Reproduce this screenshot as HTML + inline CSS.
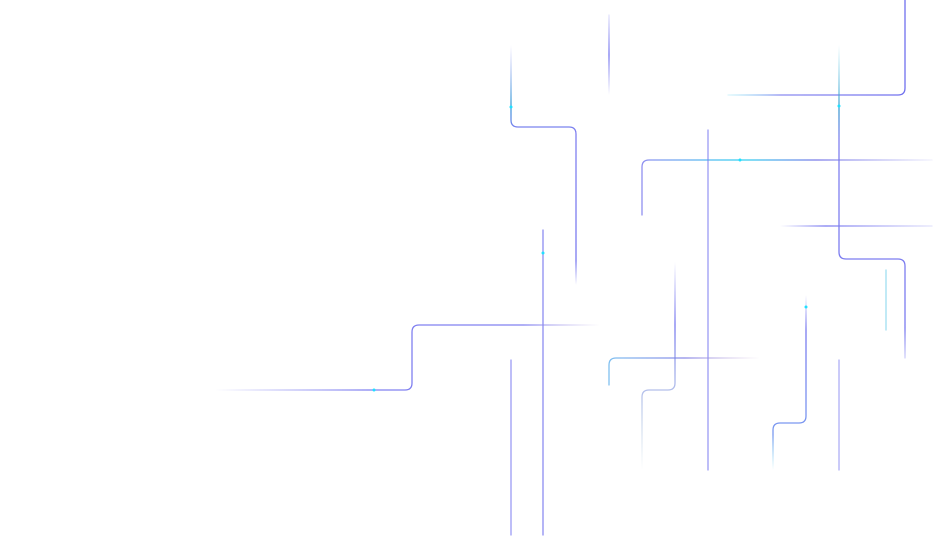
<!DOCTYPE html>
<html><head><meta charset="utf-8"><style>
html,body{margin:0;padding:0;background:#fff;width:937px;height:541px;overflow:hidden}
svg{display:block}
path{fill:none;stroke-width:1.3;stroke-linecap:round}
</style></head><body>
<svg width="937" height="541" viewBox="0 0 937 541" xmlns="http://www.w3.org/2000/svg">
<defs>
<linearGradient id="g1" gradientUnits="userSpaceOnUse" x1="0" y1="45" x2="0" y2="285"><stop offset="0" stop-color="#7f7ff0" stop-opacity="0"/><stop offset="0.25" stop-color="#3aa0d8"/><stop offset="0.35" stop-color="#8080f0"/><stop offset="0.9" stop-color="#7a7af0"/><stop offset="1" stop-color="#7a7af0" stop-opacity="0"/></linearGradient>
<linearGradient id="g2" gradientUnits="userSpaceOnUse" x1="0" y1="15" x2="0" y2="95"><stop offset="0" stop-color="#7a7af0" stop-opacity="0.2"/><stop offset="0.5" stop-color="#7a7af0"/><stop offset="1" stop-color="#7a7af0" stop-opacity="0"/></linearGradient>
<linearGradient id="g3" gradientUnits="userSpaceOnUse" x1="728" y1="0" x2="905" y2="0"><stop offset="0" stop-color="#4fd0f0" stop-opacity="0.2"/><stop offset="0.3" stop-color="#8a8af0"/><stop offset="1" stop-color="#7070ee"/></linearGradient>
<linearGradient id="g4" gradientUnits="userSpaceOnUse" x1="0" y1="45" x2="0" y2="360"><stop offset="0" stop-color="#40c0e0" stop-opacity="0"/><stop offset="0.2" stop-color="#40a0d0"/><stop offset="0.3" stop-color="#8080f0"/><stop offset="0.9" stop-color="#7a7af0"/><stop offset="1" stop-color="#7a7af0" stop-opacity="0.3"/></linearGradient>
<linearGradient id="g5" gradientUnits="userSpaceOnUse" x1="642" y1="0" x2="932" y2="0"><stop offset="0" stop-color="#9090f0"/><stop offset="0.35" stop-color="#30d0f0"/><stop offset="0.6" stop-color="#7a7ae8"/><stop offset="1" stop-color="#7a7ae8" stop-opacity="0.1"/></linearGradient>
<linearGradient id="gv" gradientUnits="objectBoundingBox" x1="0" y1="0" x2="0" y2="1"><stop offset="0" stop-color="#7a7af0" stop-opacity="0"/><stop offset="0.3" stop-color="#7a7af0"/><stop offset="1" stop-color="#7a7af0" stop-opacity="0.1"/></linearGradient>
<linearGradient id="gl" gradientUnits="userSpaceOnUse" x1="215" y1="0" x2="600" y2="0"><stop offset="0" stop-color="#7a7af0" stop-opacity="0"/><stop offset="0.4" stop-color="#8080f0"/><stop offset="0.8" stop-color="#8080f0"/><stop offset="1" stop-color="#b0a0e0" stop-opacity="0"/></linearGradient>
<linearGradient id="g12" gradientUnits="userSpaceOnUse" x1="609" y1="0" x2="760" y2="0"><stop offset="0" stop-color="#80c0f0"/><stop offset="0.5" stop-color="#8a8ae8"/><stop offset="1" stop-color="#c0a0d0" stop-opacity="0"/></linearGradient>
<linearGradient id="g13" gradientUnits="userSpaceOnUse" x1="0" y1="262" x2="0" y2="470"><stop offset="0" stop-color="#7a7af0" stop-opacity="0"/><stop offset="0.3" stop-color="#7a7af0"/><stop offset="1" stop-color="#70a0c0" stop-opacity="0"/></linearGradient>
<linearGradient id="g14" gradientUnits="userSpaceOnUse" x1="0" y1="295" x2="0" y2="470"><stop offset="0" stop-color="#7a7af0" stop-opacity="0"/><stop offset="0.2" stop-color="#7a7af0"/><stop offset="0.8" stop-color="#7a9af0"/><stop offset="1" stop-color="#60d0f0" stop-opacity="0"/></linearGradient>
<linearGradient id="g7" gradientUnits="userSpaceOnUse" x1="780" y1="0" x2="932" y2="0"><stop offset="0" stop-color="#7a7af0" stop-opacity="0"/><stop offset="0.3" stop-color="#7a7af0"/><stop offset="1" stop-color="#7a7af0" stop-opacity="0.2"/></linearGradient>
</defs>
<path stroke="url(#g1)" d="M511,45 V120 q0,7 7,7 H569 q7,0 7,7 V285"/>
<path stroke="url(#g2)" d="M609,15 V95"/>
<path stroke="url(#g3)" d="M728,95 H898 q7,0 7,-7 V0"/>
<path stroke="url(#g4)" d="M839,45 V252 q0,7 7,7 H898 q7,0 7,7 V358"/>
<path stroke="url(#g5)" d="M642,215 V167 q0,-7 7,-7 H932"/>
<path stroke="#7a7af0" stroke-opacity="0.75" d="M708,130 V470"/>
<path stroke="url(#g7)" d="M780,226 H932"/>
<path stroke="#60c8e8" stroke-opacity="0.6" d="M886,270 V330"/>
<path stroke="#7070ee" stroke-opacity="0.8" d="M543,230 V535"/>
<path stroke="url(#gl)" d="M600,325 H419 q-7,0 -7,7 V383 q0,7 -7,7 H215"/>
<path stroke="#7a7af0" stroke-opacity="0.75" d="M511,360 V535"/>
<path stroke="url(#g12)" d="M609,385 V365 q0,-7 7,-7 H760"/>
<path stroke="url(#g13)" d="M675,262 V383 q0,7 -7,7 H649 q-7,0 -7,7 V470"/>
<path stroke="url(#g14)" d="M806,295 V416 q0,7 -7,7 H780 q-7,0 -7,7 V470"/>
<path stroke="#7a7af0" stroke-opacity="0.6" d="M839,360 V470"/>
<circle cx="511" cy="107" r="1.5" fill="#20e0ff"/>
<circle cx="839" cy="106" r="1.5" fill="#20e0ff"/>
<circle cx="740" cy="160" r="1.5" fill="#20e0ff"/>
<circle cx="543" cy="253" r="1.5" fill="#20e0ff"/>
<circle cx="806" cy="307" r="1.5" fill="#20e0ff"/>
<circle cx="374" cy="390" r="1.5" fill="#20e0ff"/>
</svg>
</body></html>
